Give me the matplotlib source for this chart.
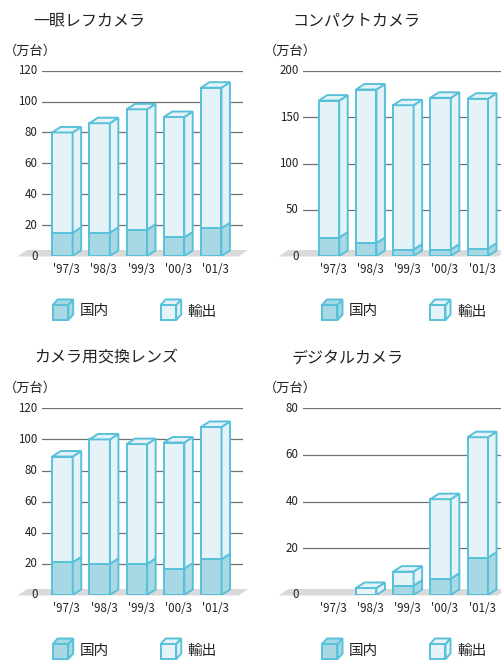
import matplotlib
matplotlib.use("Agg")
import matplotlib.pyplot as plt
from matplotlib.patches import Polygon
from matplotlib.transforms import ScaledTranslation

plt.rcParams['font.family'] = ['Noto Sans CJK JP', 'DejaVu Sans']

# ---------------- data ----------------
periods = ["'97/3", "'98/3", "'99/3", "'00/3", "'01/3"]

titles = ["一眼レフカメラ", "コンパクトカメラ", "カメラ用交換レンズ", "デジタルカメラ"]
unit_label = "（万台）"
legend_labels = ["国内", "輸出"]

slr_domestic = [15, 15, 17, 12, 18]
slr_total = [80, 86, 95, 90, 109]

compact_domestic = [20, 14, 7, 7, 8]
compact_total = [168, 180, 163, 171, 170]

lens_domestic = [21, 20, 20, 17, 23]
lens_total = [89, 100, 97, 98, 108]

digital_domestic = [0, 0, 4, 7, 16]
digital_total = [0, 3, 10, 41, 67.5]

yticks_slr = [0, 20, 40, 60, 80, 100, 120]
yticks_compact = [0, 50, 100, 150, 200]
yticks_lens = [0, 20, 40, 60, 80, 100, 120]
yticks_digital = [0, 20, 40, 60, 80]

# ---------------- style ----------------
W, H = 502, 660
EDGE = "#58c1da"
DOM = "#a8d8e4"
EXP = "#e5f2f7"
FLOOR = "#dadada"
GRID = "#707070"
TXT = "#222222"
LW = 1.4

fig = plt.figure(figsize=(W / 100, H / 100), dpi=100)

# overlay axes in pixel coordinates for titles / legends
ov = fig.add_axes([0, 0, 1, 1], zorder=10)
ov.set_xlim(0, W)
ov.set_ylim(H, 0)
ov.axis("off")
ov.patch.set_alpha(0)

SP = 37.2       # pixels between bars
BW = 0.55       # bar width (units)
DXP, DYP = 8.5, 5.5  # depth in pixels


def panel(left, right, y0, ytop, c0, ymax, yticks, dom, tot, title, tx, ty, ux, uy, legy, lx):
    ax = fig.add_axes([left / W, 1 - y0 / H, (right - left) / W, (y0 - ytop) / H])
    ax.set_xlim((left - c0) / SP, (right - c0) / SP)
    ax.set_ylim(0, ymax)
    ax.axis("off")
    ppu = (y0 - ytop) / ymax
    dx = DXP / SP
    dy = DYP / ppu
    # gridlines
    for t in yticks:
        if t > 0:
            ax.axhline(t, color=GRID, lw=0.9, zorder=1)
    # floor
    def px2d(px, py):
        return ((px - c0) / SP, (y0 - py) / ppu)
    L = left - 24.5
    R = right + 5
    floor = Polygon([px2d(L, y0 + 0.5), px2d(R - 9, y0 + 0.5), px2d(R, y0 - 6), px2d(L + 10, y0 - 6)],
                    closed=True, facecolor=FLOOR, edgecolor="none", zorder=1.5, clip_on=False)
    ax.add_patch(floor)
    # tick labels
    for t in yticks:
        ax.annotate(str(t), xy=(0, t), xycoords=("axes fraction", "data"),
                    xytext=(-3.0, 0), textcoords="offset points",
                    ha="right", va="center", fontsize=8.3, color=TXT, zorder=5)
    # bars (front faces)
    xs = list(range(len(tot)))
    exp = [t - d for t, d in zip(tot, dom)]
    dx_list = [x for x, d in zip(xs, dom) if d > 0]
    dh_list = [d for d in dom if d > 0]
    ex_list = [x for x, e in zip(xs, exp) if e > 0]
    eh_list = [e for e in exp if e > 0]
    eb_list = [d for d, e in zip(dom, exp) if e > 0]
    ax.bar(dx_list, dh_list, width=BW, bottom=0, color=DOM, edgecolor=EDGE, lw=LW, zorder=3)
    ax.bar(ex_list, eh_list, width=BW, bottom=eb_list, color=EXP, edgecolor=EDGE, lw=LW, zorder=3)
    # side and top faces
    for x, d, t in zip(xs, dom, tot):
        if t <= 0:
            continue
        xl, xr = x - BW / 2, x + BW / 2
        segs = []
        if d > 0:
            segs.append((0, d, DOM))
        if t > d:
            segs.append((d, t, EXP))
        for b, tp, col in segs:
            side = Polygon([(xr, b), (xr + dx, b + dy), (xr + dx, tp + dy), (xr, tp)],
                           closed=True, facecolor=col, edgecolor=EDGE, lw=LW, zorder=3,
                           joinstyle="miter")
            ax.add_patch(side)
        topcol = segs[-1][2]
        top = Polygon([(xl, t), (xr, t), (xr + dx, t + dy), (xl + dx, t + dy)],
                      closed=True, facecolor=topcol, edgecolor=EDGE, lw=LW, zorder=3,
                      joinstyle="miter")
        ax.add_patch(top)
    # x labels
    off = ScaledTranslation(0, -13 / 100, fig.dpi_scale_trans)
    for x, lab in zip(xs, periods):
        ax.text(x + dx / 2, 0, lab, transform=ax.transData + off, ha="center", va="center",
                fontsize=8.3, color=TXT, zorder=5, clip_on=False)
    # titles
    ov.text(tx, ty, title, ha="left", va="center", fontsize=11.5, color=TXT)
    ov.text(ux, uy, unit_label, ha="left", va="center", fontsize=9.5, color=TXT)
    # legend icons
    for i, (col, lab) in enumerate(zip([DOM, EXP], legend_labels)):
        ix = lx + i * 108
        fx0, fx1 = ix, ix + 15.5
        fy0, fy1 = legy - 5.5, legy + 9.5
        ddx, ddy = 5, 5.5
        front = Polygon([(fx0, fy0), (fx1, fy0), (fx1, fy1), (fx0, fy1)], closed=True,
                        facecolor=col, edgecolor=EDGE, lw=LW, joinstyle="miter", clip_on=False)
        side = Polygon([(fx1, fy1), (fx1 + ddx, fy1 - ddy), (fx1 + ddx, fy0 - ddy), (fx1, fy0)],
                       closed=True, facecolor=col, edgecolor=EDGE, lw=LW, joinstyle="miter", clip_on=False)
        topf = Polygon([(fx0, fy0), (fx1, fy0), (fx1 + ddx, fy0 - ddy), (fx0 + ddx, fy0 - ddy)],
                       closed=True, facecolor=col, edgecolor=EDGE, lw=LW, joinstyle="miter", clip_on=False)
        for p in (front, side, topf):
            ov.add_patch(p)
        ov.text(ix + 27, legy + 1, lab, ha="left", va="center", fontsize=10.5, color=TXT)
    return ax


panel(41.7, 243, 256, 70.7, 62.4, 120, yticks_slr, slr_domestic, slr_total,
      titles[0], 33, 21.5, 4, 51, 310.5, 52.7)
panel(303, 502, 256, 71, 329, 200, yticks_compact, compact_domestic, compact_total,
      titles[1], 292, 21.5, 264, 51, 310.5, 322)
panel(41.7, 243, 595, 408.3, 62.5, 120, yticks_lens, lens_domestic, lens_total,
      titles[2], 34, 358, 4, 388, 649.5, 52.7)
panel(303, 502, 595, 408, 329, 80, yticks_digital, digital_domestic, digital_total,
      titles[3], 292, 358, 264, 388, 649.5, 322)

fig.savefig("out.png", dpi=100)
